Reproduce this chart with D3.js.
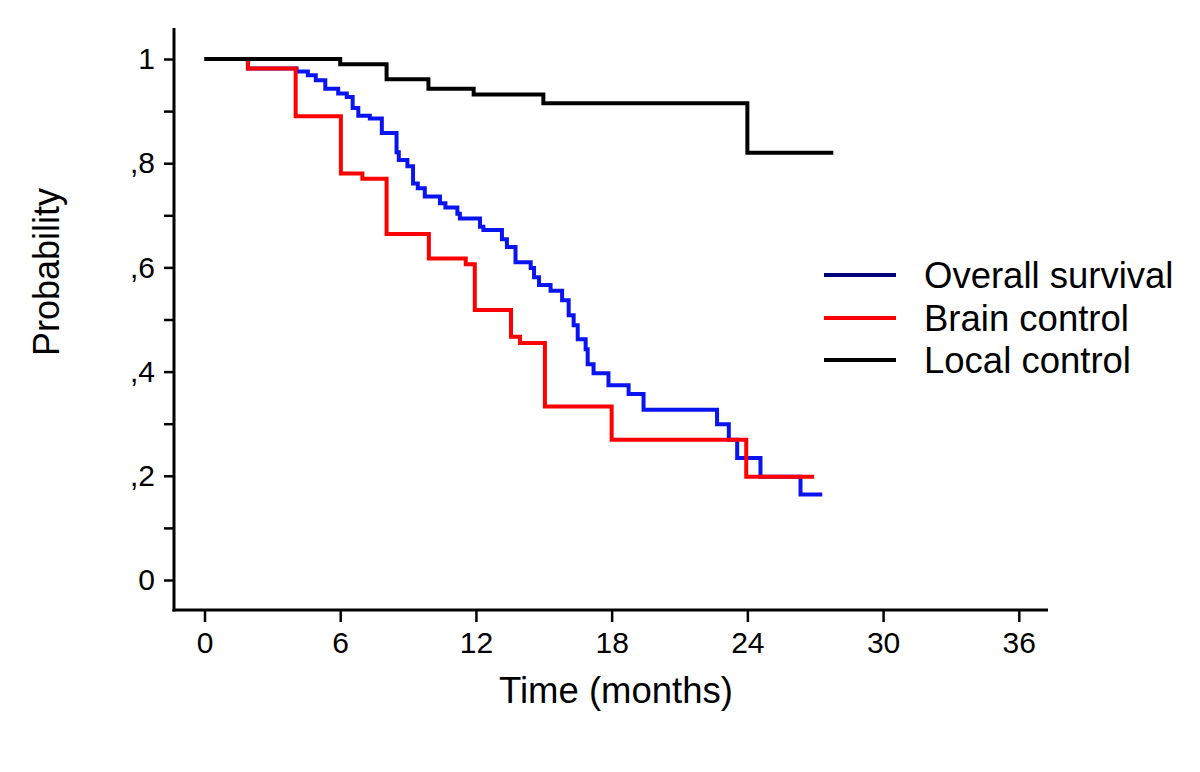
<!DOCTYPE html>
<html>
<head>
<meta charset="utf-8">
<script src="https://cdn.jsdelivr.net/npm/d3@7"></script>
<style>
  html, body { margin: 0; padding: 0; background: #fff; }
  svg text { font-family: "Liberation Sans", Arial, sans-serif; fill: #000; }
</style>
</head>
<body>
<svg id="chart" width="1200" height="772"></svg>
<script>
// ---- Data ----
const seriesNames = ["Overall survival", "Brain control", "Local control"];

// Overall survival: [time (months), probability]
const overallTimes  = [0, 1.92, 4.07, 4.57, 4.92, 5.34, 5.91, 6.29, 6.55, 6.80, 7.31, 7.84, 8.49, 8.59, 8.97, 9.22, 9.43, 9.74, 10.41, 10.65, 11.18, 11.29, 12.18, 12.33, 13.15, 13.37, 13.75, 14.42, 14.57, 14.79, 15.30, 15.81, 16.10, 16.32, 16.50, 16.85, 16.94, 17.20, 17.86, 18.75, 19.41, 22.66, 23.18, 23.55, 24.58, 26.35, 27.31];
const overallValues = [1, 0.982, 0.976, 0.969, 0.959, 0.943, 0.934, 0.927, 0.906, 0.891, 0.886, 0.858, 0.821, 0.806, 0.794, 0.761, 0.752, 0.736, 0.723, 0.715, 0.703, 0.694, 0.678, 0.672, 0.654, 0.639, 0.610, 0.599, 0.581, 0.566, 0.555, 0.537, 0.508, 0.489, 0.462, 0.443, 0.414, 0.397, 0.374, 0.357, 0.327, 0.299, 0.269, 0.234, 0.198, 0.164, 0.164];

// Brain control
const brainTimes  = [0, 1.92, 4.03, 6.03, 6.98, 8.05, 9.92, 11.55, 11.95, 13.55, 13.95, 15.05, 18.0, 23.95, 26.95];
const brainValues = [1, 0.982, 0.890, 0.780, 0.770, 0.664, 0.617, 0.606, 0.518, 0.467, 0.455, 0.333, 0.269, 0.198, 0.198];

// Local control
const localTimes  = [0, 6.0, 8.05, 9.9, 11.9, 14.98, 24.0, 27.8];
const localValues = [1, 0.990, 0.961, 0.943, 0.932, 0.915, 0.820, 0.820];

const xTicks = [0, 6, 12, 18, 24, 30, 36];
const yMajorTicks = [0, 0.2, 0.4, 0.6, 0.8, 1];
const yTickLabels = ["0", ",2", ",4", ",6", ",8", "1"];
const yMinorTicks = [0.1, 0.3, 0.5, 0.7, 0.9];

// ---- Layout ----
const svg = d3.select("#chart");
const x = d3.scaleLinear().domain([0, 36]).range([204.5, 1018.8]);
const y = d3.scaleLinear().domain([0, 1]).range([580, 59]);

const axisLeftX = 174, axisBottomY = 610;
const axisTopY = 28, axisRightX = 1048;

// Axis lines
svg.append("line")
  .attr("x1", axisLeftX).attr("x2", axisLeftX)
  .attr("y1", axisTopY).attr("y2", axisBottomY + 1.5)
  .attr("stroke", "#000").attr("stroke-width", 3);
svg.append("line")
  .attr("x1", axisLeftX - 1.5).attr("x2", axisRightX)
  .attr("y1", axisBottomY).attr("y2", axisBottomY)
  .attr("stroke", "#000").attr("stroke-width", 3);

// X axis via d3.axisBottom
const xAxis = d3.axisBottom(x).tickValues(xTicks).tickSize(12).tickPadding(10).tickFormat(d3.format("d"));
const gx = svg.append("g").attr("transform", `translate(0,${axisBottomY})`).call(xAxis);
gx.select(".domain").remove();
gx.selectAll(".tick line").attr("stroke", "#000").attr("stroke-width", 2.5);
gx.selectAll(".tick text").attr("font-size", 30).attr("font-family", "Liberation Sans, Arial, sans-serif").attr("fill", "#000");

// Y axis major
const yAxis = d3.axisLeft(y).tickValues(yMajorTicks).tickSize(10).tickPadding(9)
  .tickFormat((d, i) => yTickLabels[i]);
const gy = svg.append("g").attr("transform", `translate(${axisLeftX},0)`).call(yAxis);
gy.select(".domain").remove();
gy.selectAll(".tick line").attr("stroke", "#000").attr("stroke-width", 2.5);
gy.selectAll(".tick text").attr("font-size", 30).attr("font-family", "Liberation Sans, Arial, sans-serif").attr("fill", "#000");

// Y axis minor
const yMinor = d3.axisLeft(y).tickValues(yMinorTicks).tickSize(10).tickFormat("");
const gym = svg.append("g").attr("transform", `translate(${axisLeftX},0)`).call(yMinor);
gym.select(".domain").remove();
gym.selectAll(".tick line").attr("stroke", "#000").attr("stroke-width", 2.5);

// Axis titles
svg.append("text")
  .attr("x", 616).attr("y", 703)
  .attr("text-anchor", "middle")
  .attr("font-size", 36.5)
  .text("Time (months)");
svg.append("text")
  .attr("transform", "translate(59,272) rotate(-90)")
  .attr("text-anchor", "middle")
  .attr("font-size", 36)
  .text("Probability");

// Curves
const line = d3.line().x(d => x(d[0])).y(d => y(d[1])).curve(d3.curveStepAfter);
const toPts = (ts, vs) => ts.map((t, i) => [t, vs[i]]);

const curves = [
  { pts: toPts(overallTimes, overallValues), color: "#0a14f0" },
  { pts: toPts(brainTimes, brainValues), color: "#ff0000" },
  { pts: toPts(localTimes, localValues), color: "#000000" }
];
svg.append("g").selectAll("path").data(curves).join("path")
  .attr("d", d => line(d.pts))
  .attr("fill", "none")
  .attr("stroke", d => d.color)
  .attr("stroke-width", 4)
  .attr("stroke-linejoin", "miter");

// Legend
const legendColors = ["#00007a", "#ff0000", "#000000"];
const legendY = [275, 318, 360];
const lg = svg.append("g");
seriesNames.forEach((name, i) => {
  lg.append("line")
    .attr("x1", 824).attr("x2", 896)
    .attr("y1", legendY[i]).attr("y2", legendY[i])
    .attr("stroke", legendColors[i]).attr("stroke-width", 4);
  lg.append("text")
    .attr("x", 924).attr("y", legendY[i] + 13)
    .attr("font-size", 36.5)
    .text(name);
});
</script>
</body>
</html>
